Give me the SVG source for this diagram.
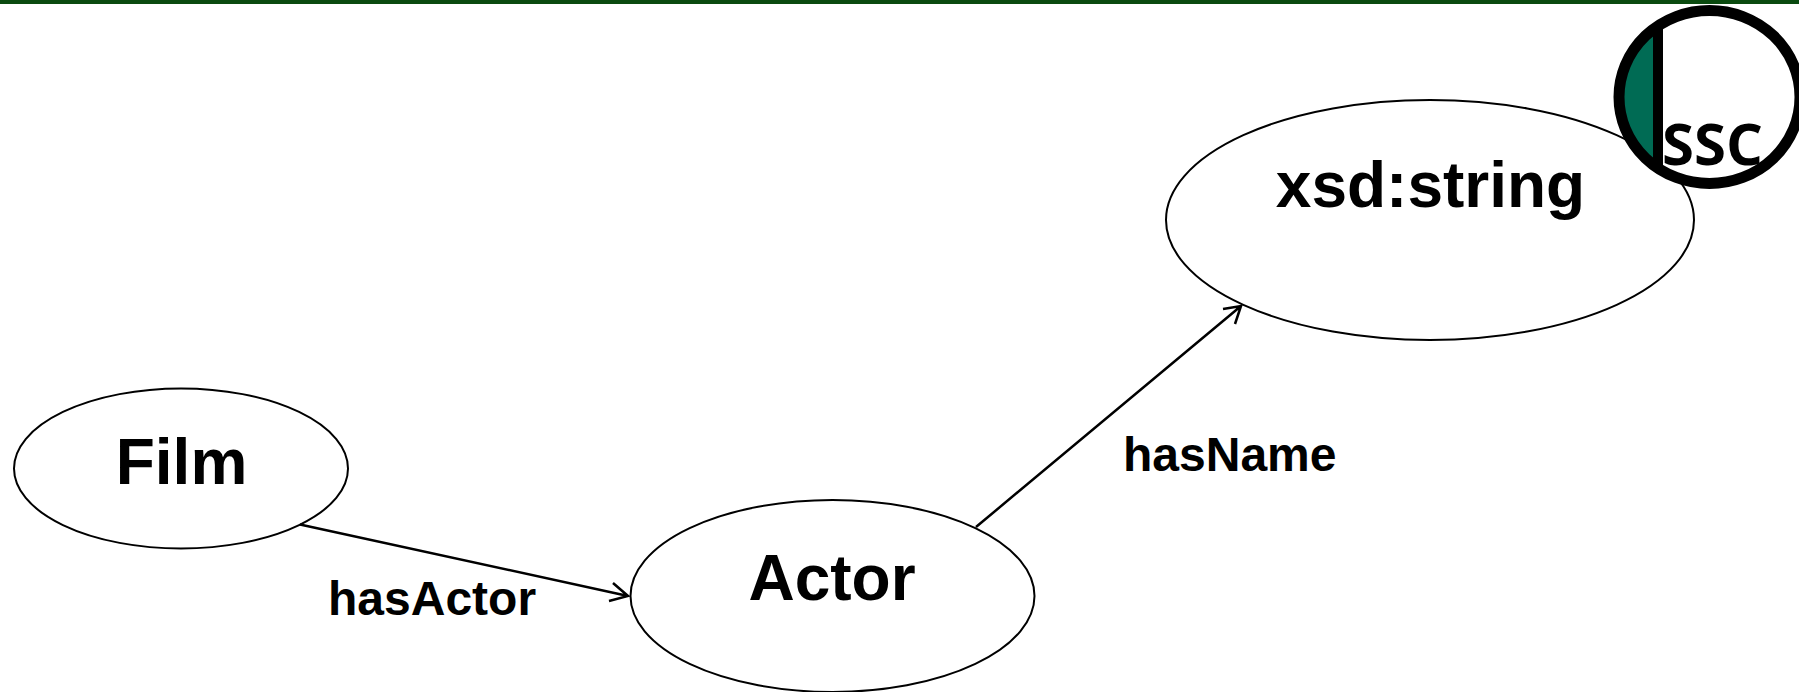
<svg xmlns="http://www.w3.org/2000/svg" width="1799" height="692" viewBox="0 0 1799 692">
<style>
.n{fill:#fff;stroke:#000;stroke-width:2}
.c{fill:none;stroke:#000;stroke-width:2.5}
text{font-family:"Liberation Sans",Arial,sans-serif;font-weight:700;fill:#000}
.t{font-size:64px;text-anchor:middle}
.l{font-size:48px}
</style>
<rect width="1799" height="692" fill="#fff"/>
<rect width="1799" height="4" fill="#0a4a0f"/>
<g id="node-film"><ellipse class="n" cx="181" cy="468.500" rx="167" ry="80"/><text class="t" x="181.500" y="484">Film</text></g>
<g id="node-actor"><ellipse class="n" cx="832.500" cy="596" rx="202" ry="96"/><text class="t" x="832" y="600">Actor</text></g>
<g id="node-string"><ellipse class="n" cx="1430" cy="220" rx="264" ry="120"/><text class="t" x="1430.500" y="207">xsd:string</text></g>
<g id="connectors">
<path class="c" d="M300 524.500L628 596M613 583L628 596L609 601"/>
<path class="c" d="M976 527L1241 306M1223 309L1241 306L1235 324"/>
<text class="l" x="328" y="615">hasActor</text>
<text class="l" x="1123" y="471">hasName</text>
</g>
<g id="logo-ssc">
<ellipse cx="1709.500" cy="97" rx="90.500" ry="86.500" fill="#fff"/>
<path d="M1655 27A90.500 86.500 0 0 0 1655 166Z" fill="#006b54"/>
<ellipse cx="1709.500" cy="97" rx="90.500" ry="86.500" fill="none" stroke="#000" stroke-width="11"/>
<rect x="1653" y="24" width="10" height="143" fill="#000"/>
<text x="1662" y="165" font-size="58" style="font-family:'Open Sans',sans-serif;font-weight:700">SSC</text>
</g>
</svg>
